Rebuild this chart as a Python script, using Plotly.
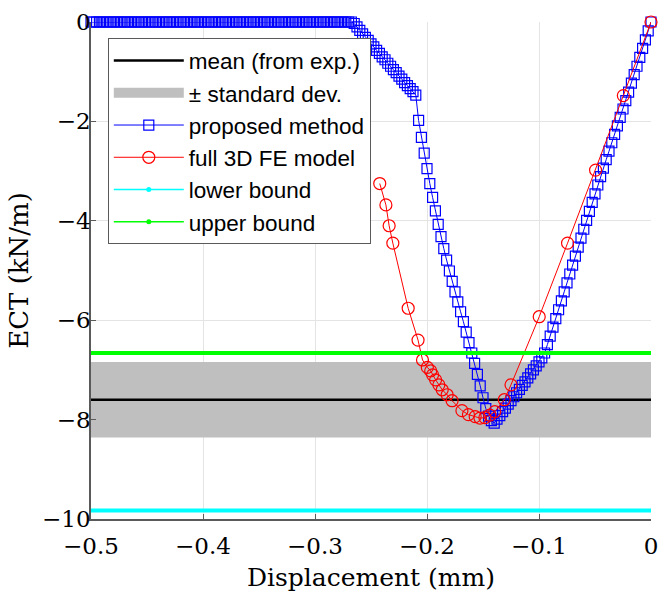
import plotly.graph_objects as go

# Experimental statistics (kN/m)
ect_mean = -7.60
ect_std = 0.76
ect_upper = -6.66
ect_lower = -9.83

# Proposed method: displacement grid (mm) and ECT (kN/m)
disp_proposed = [round(-0.5 + 0.0025 * k, 4) for k in range(201)]
ect_proposed = [0.0] * 94 + [
    -0.03, -0.10, -0.17, -0.24, -0.31, -0.37, -0.44, -0.50, -0.57, -0.63,
    -0.70, -0.76, -0.83, -0.89, -0.96, -1.02, -1.09, -1.15, -1.22, -1.28,
    -1.34, -1.40, -1.47,
    -1.98, -2.32, -2.64, -2.95, -3.25, -3.53, -3.80, -4.07, -4.32, -4.56,
    -4.79, -5.01, -5.22, -5.43, -5.63, -5.83, -6.03, -6.24, -6.45, -6.66,
    -6.87, -7.09, -7.32, -7.56, -7.78, -7.93, -8.02, -8.07,
    -7.99, -7.92, -7.84, -7.77, -7.69, -7.62, -7.54, -7.46, -7.39, -7.31,
    -7.24, -7.16, -7.08, -7.00, -6.92, -6.84, -6.76, -6.66,
    -6.49, -6.32, -6.14, -5.97, -5.79, -5.61, -5.43, -5.25, -5.07, -4.89,
    -4.71, -4.53, -4.35, -4.17, -3.99, -3.81, -3.63, -3.46, -3.28, -3.11,
    -2.94, -2.77, -2.60, -2.43, -2.26, -2.09, -1.92, -1.75, -1.58, -1.41,
    -1.23, -1.06, -0.89, -0.71, -0.53, -0.36, -0.18, 0.00,
]

# Full 3D FE model
disp_fe = [
    -0.2422, -0.2367, -0.2338, -0.2305, -0.2168, -0.2080, -0.2040, -0.1997,
    -0.1967, -0.1950, -0.1923, -0.1894, -0.1864, -0.1820, -0.1776, -0.1688,
    -0.1630, -0.1570, -0.1527, -0.1483, -0.1439, -0.1395, -0.1310, -0.1250,
    -0.0998, -0.0745, -0.0495, -0.0247, 0.0,
]
ect_fe = [
    -3.25, -3.68, -4.10, -4.45, -5.76, -6.40, -6.80, -6.95,
    -7.02, -7.10, -7.20, -7.30, -7.40, -7.50, -7.62, -7.82,
    -7.90, -7.94, -7.97, -7.96, -7.91, -7.84, -7.60, -7.30,
    -5.93, -4.45, -2.98, -1.48, 0.0,
]

x_span = [-0.5, 0.0]
x_ticks = [-0.5, -0.4, -0.3, -0.2, -0.1, 0.0]
y_ticks = [-10, -8, -6, -4, -2, 0]

serif = "DejaVu Serif"
sans = "Liberation Sans"
grey_band = "rgb(191,191,191)"
cyan = "rgb(0,255,255)"
lime = "rgb(0,255,0)"

fig = go.Figure()

band_hi = ect_mean + ect_std
band_lo = ect_mean - ect_std
fig.add_trace(go.Scatter(
    x=[x_span[0], x_span[1], x_span[1], x_span[0], x_span[0]],
    y=[band_hi, band_hi, band_lo, band_lo, band_hi],
    fill="toself", fillcolor=grey_band, mode="lines",
    line=dict(width=0, color=grey_band),
    showlegend=False, hoverinfo="skip",
))
# legend swatch for the band
fig.add_trace(go.Scatter(
    x=[None], y=[None], mode="lines",
    line=dict(color=grey_band, width=24),
    name="\u00b1 standard dev.", legendrank=2,
))
fig.add_trace(go.Scatter(
    x=x_span, y=[ect_mean, ect_mean], mode="lines",
    line=dict(color="black", width=2.5),
    name="mean (from exp.)", legendrank=1,
))
fig.add_trace(go.Scatter(
    x=disp_proposed, y=ect_proposed, mode="lines+markers",
    line=dict(color="rgb(0,0,255)", width=1),
    marker=dict(symbol="square-open", size=10, color="rgb(0,0,255)",
                line=dict(width=1.2)),
    name="proposed method", legendrank=3, cliponaxis=False,
))
fig.add_trace(go.Scatter(
    x=disp_fe, y=ect_fe, mode="lines+markers",
    line=dict(color="rgb(255,0,0)", width=1),
    marker=dict(symbol="circle-open", size=12, color="rgb(255,0,0)",
                line=dict(width=1.2)),
    name="full 3D FE model", legendrank=4, cliponaxis=False,
))
fig.add_trace(go.Scatter(
    x=x_span, y=[ect_lower, ect_lower], mode="lines",
    line=dict(color=cyan, width=4), showlegend=False,
))
fig.add_trace(go.Scatter(
    x=x_span, y=[ect_upper, ect_upper], mode="lines",
    line=dict(color=lime, width=4), showlegend=False,
))
# legend entries for the bounds: thin line with a dot marker
fig.add_trace(go.Scatter(
    x=[None], y=[None], mode="lines+markers",
    line=dict(color=cyan, width=1.5),
    marker=dict(symbol="circle", size=5, color=cyan),
    name="lower bound", legendrank=5,
))
fig.add_trace(go.Scatter(
    x=[None], y=[None], mode="lines+markers",
    line=dict(color=lime, width=1.5),
    marker=dict(symbol="circle", size=5, color=lime),
    name="upper bound", legendrank=6,
))

axis_common = dict(
    showline=True, linecolor="rgb(90,90,90)", linewidth=1.5,
    ticks="inside", ticklen=5, tickcolor="rgb(90,90,90)",
    showgrid=True, gridcolor="rgb(228,228,228)", gridwidth=1,
    zeroline=False, mirror=False, ticklabeloverflow="allow",
    tickfont=dict(family=serif, size=23, color="black"),
)

fig.update_layout(
    width=665, height=598,
    margin=dict(l=91, r=7, t=22, b=79),
    paper_bgcolor="white", plot_bgcolor="white",
    showlegend=True,
    xaxis=dict(
        range=x_span, tickvals=x_ticks, ticklabelstandoff=6,
        title=dict(text="Displacement (mm)", standoff=10,
                   font=dict(family=serif, size=25, color="black")),
        **axis_common,
    ),
    yaxis=dict(
        range=[-10, 0], tickvals=y_ticks, ticklabelstandoff=-6,
        title=dict(text="ECT (kN/m)", standoff=6,
                   font=dict(family=serif, size=26, color="black")),
        **axis_common,
    ),
    legend=dict(
        x=0.03, y=0.967, xanchor="left", yanchor="top",
        bgcolor="white", bordercolor="rgb(90,90,90)", borderwidth=1,
        font=dict(family=sans, size=22.5, color="black"),
        itemwidth=70, tracegroupgap=0,
    ),
)

fig.write_html("out.html")
